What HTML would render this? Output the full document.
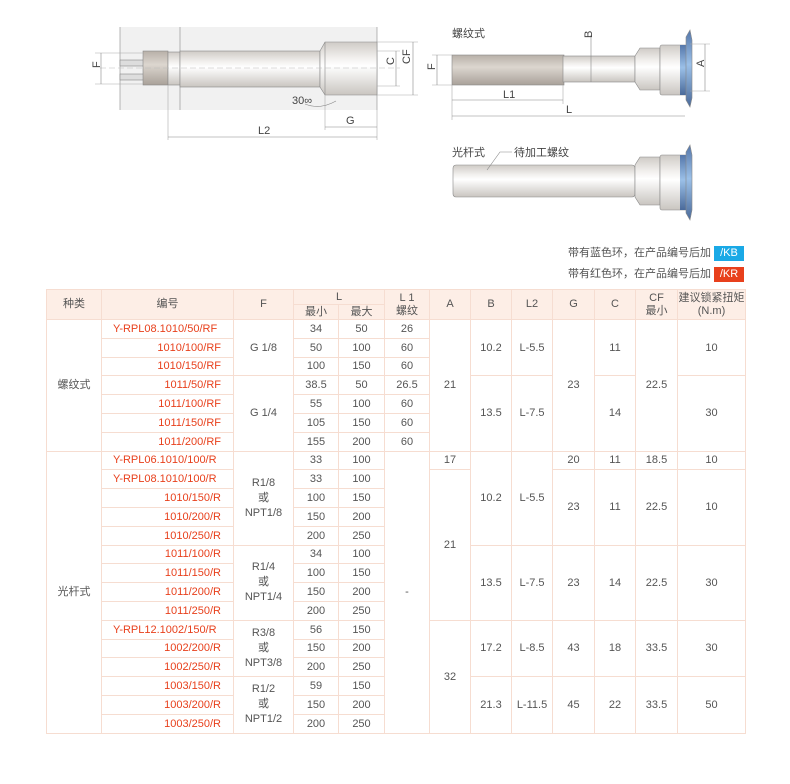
<!DOCTYPE html>
<html><head><meta charset="utf-8"><style>
body{margin:0;width:790px;height:784px;background:#fff;position:relative;font-family:"Liberation Sans","Noto Sans CJK SC",sans-serif;color:#555;overflow:hidden}
svg{position:absolute;left:0;top:0}
.leg{position:absolute;right:46px;font-size:11px;color:#555;line-height:15px}
.leg span{display:inline-block;width:30px;color:#fff;text-align:center;margin-left:3px;font-size:11px}
table{position:absolute;left:46px;top:289px;border-collapse:collapse;table-layout:fixed;font-size:11px}
td,th{border:1px solid #f6ddd1;padding:0;text-align:center;font-weight:normal;line-height:12px;color:#555}
th{background:#fdeee6;height:14px;line-height:13px}
tbody td{height:17.8px}
td.m{line-height:15px}
.r{color:#e8401c;text-align:right;padding-right:12px}
.l{color:#e8401c;text-align:left;padding-left:11px}
</style></head><body>
<svg width="790" height="240" viewBox="0 0 790 240">
<defs>
<linearGradient id="sh" x1="0" y1="0" x2="0" y2="1"><stop offset="0" stop-color="#cfcbc6"/><stop offset=".3" stop-color="#f2f0ee"/><stop offset=".45" stop-color="#fff"/><stop offset="1" stop-color="#c9c5c0"/></linearGradient>
<linearGradient id="th" x1="0" y1="0" x2="0" y2="1"><stop offset="0" stop-color="#b8b0a8"/><stop offset=".4" stop-color="#dcd6cf"/><stop offset="1" stop-color="#a9a199"/></linearGradient>
<linearGradient id="bl" x1="0" y1="0" x2="0" y2="1"><stop offset="0" stop-color="#5577aa"/><stop offset=".45" stop-color="#9bc0e8"/><stop offset="1" stop-color="#4a6a9a"/></linearGradient>
</defs>
<g stroke="#888" stroke-width=".6" fill="none">
<rect x="120" y="27" width="257" height="83" fill="#f1f1f1" stroke="none"/>
<line x1="120" y1="27" x2="120" y2="110"/><line x1="180" y1="27" x2="180" y2="110"/><line x1="377" y1="27" x2="377" y2="110"/>
<rect x="120" y="60" width="24" height="6" fill="#ddd"/><rect x="120" y="74" width="24" height="6" fill="#ddd"/>
<rect x="143" y="51" width="25" height="34" fill="url(#th)"/>
<rect x="168" y="52" width="12" height="33" fill="url(#sh)"/>
<rect x="180" y="51" width="140" height="36" fill="url(#sh)"/>
<polygon points="320,51 325,42 377,42 377,95 325,95 320,87" fill="url(#sh)"/>
<line x1="325" y1="42" x2="325" y2="95"/>
<line x1="100" y1="68" x2="400" y2="68" stroke-dasharray="6,3" stroke="#bbb"/>
<line x1="95" y1="53" x2="143" y2="53" stroke="#aaa"/><line x1="95" y1="84" x2="143" y2="84" stroke="#aaa"/><line x1="101" y1="53" x2="101" y2="84"/>
<line x1="377" y1="51" x2="400" y2="51" stroke="#aaa"/><line x1="377" y1="86" x2="400" y2="86" stroke="#aaa"/><line x1="396" y1="51" x2="396" y2="86"/>
<line x1="377" y1="42" x2="418" y2="42" stroke="#aaa"/><line x1="377" y1="95" x2="418" y2="95" stroke="#aaa"/><line x1="413" y1="42" x2="413" y2="95"/>
<line x1="325" y1="95" x2="325" y2="130" stroke="#aaa"/><line x1="377" y1="110" x2="377" y2="140" stroke="#aaa"/><line x1="168" y1="85" x2="168" y2="140" stroke="#aaa"/>
<line x1="325" y1="127" x2="377" y2="127"/><line x1="168" y1="137" x2="377" y2="137"/>
<path d="M305,104 Q320,110 336,101"/>
<rect x="452" y="55" width="112" height="30" fill="url(#th)"/>
<rect x="563" y="56" width="72" height="26" fill="url(#sh)"/>
<polygon points="635,56 640,48 660,48 660,90 640,90 635,82" fill="url(#sh)"/>
<rect x="660" y="45" width="28" height="50" rx="2" fill="url(#sh)"/>
<rect x="680" y="45" width="7" height="50" fill="url(#bl)" stroke="none"/>
<path d="M686,37 L690,30 L692,40 L692,98 L690,107 L686,100 Z" fill="url(#bl)"/>
<line x1="432" y1="55" x2="452" y2="55" stroke="#aaa"/><line x1="432" y1="85" x2="452" y2="85" stroke="#aaa"/><line x1="437" y1="55" x2="437" y2="85"/>
<line x1="591" y1="35" x2="591" y2="82"/>
<line x1="690" y1="44" x2="710" y2="44" stroke="#aaa"/><line x1="690" y1="91" x2="710" y2="91" stroke="#aaa"/><line x1="705" y1="44" x2="705" y2="91"/>
<line x1="452" y1="85" x2="452" y2="120" stroke="#aaa"/><line x1="563" y1="85" x2="563" y2="104" stroke="#aaa"/>
<line x1="452" y1="100" x2="563" y2="100"/><line x1="452" y1="116" x2="685" y2="116"/>
<rect x="453" y="165" width="182" height="32" rx="3" fill="url(#sh)"/>
<polygon points="635,165 640,157 660,157 660,205 640,205 635,197" fill="url(#sh)"/>
<rect x="660" y="155" width="28" height="55" rx="2" fill="url(#sh)"/>
<rect x="680" y="155" width="7" height="55" fill="url(#bl)" stroke="none"/>
<path d="M686,152 L690,145 L692,155 L692,210 L690,220 L686,213 Z" fill="url(#bl)"/>
<polyline points="487,170 500,152 512,152"/>
</g>
<g font-size="11" fill="#444" font-family="Liberation Sans,Noto Sans CJK SC,sans-serif">
<text x="96" y="72" transform="rotate(-90 96 68)">F</text>
<text x="393" y="72" transform="rotate(-90 390 68)">C</text>
<text x="410" y="72" transform="rotate(-90 406 68)">CF</text>
<text x="292" y="104">30∞</text>
<text x="346" y="124">G</text>
<text x="258" y="134">L2</text>
<text x="452" y="37">螺纹式</text>
<text x="432" y="73" transform="rotate(-90 432 70)">F</text>
<text x="590" y="44" transform="rotate(-90 588 40)">B</text>
<text x="701" y="72" transform="rotate(-90 700 68)">A</text>
<text x="503" y="98">L1</text>
<text x="566" y="113">L</text>
<text x="452" y="156">光杆式</text>
<text x="514" y="156">待加工螺纹</text>
</g>
</svg>
<div class="leg" style="top:246px">带有蓝色环，在产品编号后加<span style="background:#1aa9e6">/KB</span></div>
<div class="leg" style="top:267px">带有红色环，在产品编号后加<span style="background:#e8401c">/KR</span></div>
<table>
<colgroup><col style="width:55px"><col style="width:132px"><col style="width:60px"><col style="width:45px"><col style="width:46px"><col style="width:45px"><col style="width:41px"><col style="width:41px"><col style="width:41px"><col style="width:42px"><col style="width:41px"><col style="width:42px"><col style="width:68px"></colgroup>
<thead>
<tr><th rowspan="2">种类</th><th rowspan="2">编号</th><th rowspan="2">F</th><th colspan="2">L</th><th rowspan="2">L 1<br>螺纹</th><th rowspan="2">A</th><th rowspan="2">B</th><th rowspan="2">L2</th><th rowspan="2">G</th><th rowspan="2">C</th><th rowspan="2">CF<br>最小</th><th rowspan="2">建议锁紧扭矩<br>(N.m)</th></tr>
<tr><th>最小</th><th>最大</th></tr>
</thead>
<tbody>
<tr><td rowspan="7">螺纹式</td><td class="l">Y-RPL08.1010/50/RF</td><td rowspan="3">G 1/8</td><td>34</td><td>50</td><td>26</td><td rowspan="7">21</td><td rowspan="3">10.2</td><td rowspan="3">L-5.5</td><td rowspan="7">23</td><td rowspan="3">11</td><td rowspan="7">22.5</td><td rowspan="3">10</td></tr>
<tr><td class="r">1010/100/RF</td><td>50</td><td>100</td><td>60</td></tr>
<tr><td class="r">1010/150/RF</td><td>100</td><td>150</td><td>60</td></tr>
<tr><td class="r">1011/50/RF</td><td rowspan="4">G 1/4</td><td>38.5</td><td>50</td><td>26.5</td><td rowspan="4">13.5</td><td rowspan="4">L-7.5</td><td rowspan="4">14</td><td rowspan="4">30</td></tr>
<tr><td class="r">1011/100/RF</td><td>55</td><td>100</td><td>60</td></tr>
<tr><td class="r">1011/150/RF</td><td>105</td><td>150</td><td>60</td></tr>
<tr><td class="r">1011/200/RF</td><td>155</td><td>200</td><td>60</td></tr>
<tr><td rowspan="15">光杆式</td><td class="l">Y-RPL06.1010/100/R</td><td rowspan="5" class="m">R1/8<br>或<br>NPT1/8</td><td>33</td><td>100</td><td rowspan="15">-</td><td>17</td><td rowspan="5">10.2</td><td rowspan="5">L-5.5</td><td>20</td><td>11</td><td>18.5</td><td>10</td></tr>
<tr><td class="l">Y-RPL08.1010/100/R</td><td>33</td><td>100</td><td rowspan="8">21</td><td rowspan="4">23</td><td rowspan="4">11</td><td rowspan="4">22.5</td><td rowspan="4">10</td></tr>
<tr><td class="r">1010/150/R</td><td>100</td><td>150</td></tr>
<tr><td class="r">1010/200/R</td><td>150</td><td>200</td></tr>
<tr><td class="r">1010/250/R</td><td>200</td><td>250</td></tr>
<tr><td class="r">1011/100/R</td><td rowspan="4" class="m">R1/4<br>或<br>NPT1/4</td><td>34</td><td>100</td><td rowspan="4">13.5</td><td rowspan="4">L-7.5</td><td rowspan="4">23</td><td rowspan="4">14</td><td rowspan="4">22.5</td><td rowspan="4">30</td></tr>
<tr><td class="r">1011/150/R</td><td>100</td><td>150</td></tr>
<tr><td class="r">1011/200/R</td><td>150</td><td>200</td></tr>
<tr><td class="r">1011/250/R</td><td>200</td><td>250</td></tr>
<tr><td class="l">Y-RPL12.1002/150/R</td><td rowspan="3" class="m">R3/8<br>或<br>NPT3/8</td><td>56</td><td>150</td><td rowspan="6">32</td><td rowspan="3">17.2</td><td rowspan="3">L-8.5</td><td rowspan="3">43</td><td rowspan="3">18</td><td rowspan="3">33.5</td><td rowspan="3">30</td></tr>
<tr><td class="r">1002/200/R</td><td>150</td><td>200</td></tr>
<tr><td class="r">1002/250/R</td><td>200</td><td>250</td></tr>
<tr><td class="r">1003/150/R</td><td rowspan="3" class="m">R1/2<br>或<br>NPT1/2</td><td>59</td><td>150</td><td rowspan="3">21.3</td><td rowspan="3">L-11.5</td><td rowspan="3">45</td><td rowspan="3">22</td><td rowspan="3">33.5</td><td rowspan="3">50</td></tr>
<tr><td class="r">1003/200/R</td><td>150</td><td>200</td></tr>
<tr><td class="r">1003/250/R</td><td>200</td><td>250</td></tr>
</tbody></table>
</body></html>
